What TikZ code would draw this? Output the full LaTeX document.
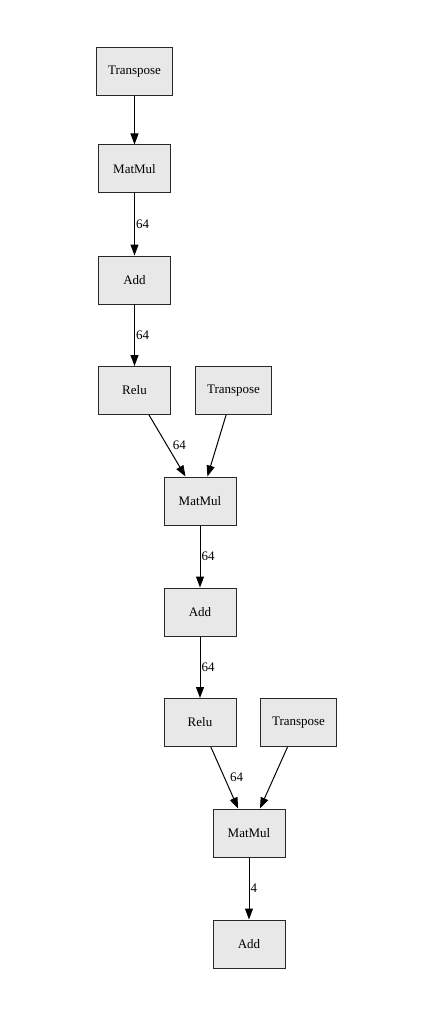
\documentclass[tikz,border=0pt]{standalone}
\usepackage{fontspec}
\setmainfont{Liberation Serif}
\usepackage{tikz}
\usetikzlibrary{arrows.meta, positioning}
\definecolor{opfill}{RGB}{232,232,232}
\definecolor{opdraw}{RGB}{40,40,40}
\tikzset{
  opnode/.style={rectangle, draw=opdraw, fill=opfill, line width=1pt,
    minimum width=72pt, minimum height=48pt, inner xsep=11.5pt,
    font=\fontsize{13}{15}\selectfont},
  flow/.style={-{Triangle[length=11pt, width=8pt]}, line width=1pt, color=black},
  dimlabel/.style={right, inner sep=1pt, font=\fontsize{13}{15}\selectfont}
}
\begin{document}
\begin{tikzpicture}[x=1pt, y=-1pt]
  \useasboundingbox (0,0) rectangle (433,1016);
  % first block
  \node[opnode] (transA) at (134.5,72) {Transpose};
  \node[opnode] (matmulA) at (134.5,169) {MatMul};
  \node[opnode] (addA) at (134.5,280) {Add};
  \node[opnode] (reluA) at (134.5,390.5) {Relu};
  % second block
  \node[opnode] (transB) at (233.5,390.5) {Transpose};
  \node[opnode] (matmulB) at (200,501) {MatMul};
  \node[opnode] (addB) at (200,612) {Add};
  \node[opnode] (reluB) at (200,722.5) {Relu};
  % output block
  \node[opnode] (transC) at (298.5,722.5) {Transpose};
  \node[opnode] (matmulC) at (249,833) {MatMul};
  \node[opnode] (addC) at (249,944) {Add};

  \draw[flow] (transA) -- (matmulA);
  \draw[flow] (matmulA) -- node[dimlabel] {64} (addA);
  \draw[flow] (addA) -- node[dimlabel] {64} (reluA);
  \draw[flow] (reluA) -- node[dimlabel, xshift=4pt] {64} (matmulB);
  \draw[flow] (transB) -- (matmulB);
  \draw[flow] (matmulB) -- node[dimlabel] {64} (addB);
  \draw[flow] (addB) -- node[dimlabel] {64} (reluB);
  \draw[flow] (reluB) -- node[dimlabel, xshift=4pt] {64} (matmulC);
  \draw[flow] (transC) -- (matmulC);
  \draw[flow] (matmulC) -- node[dimlabel] {4} (addC);
\end{tikzpicture}
\end{document}
